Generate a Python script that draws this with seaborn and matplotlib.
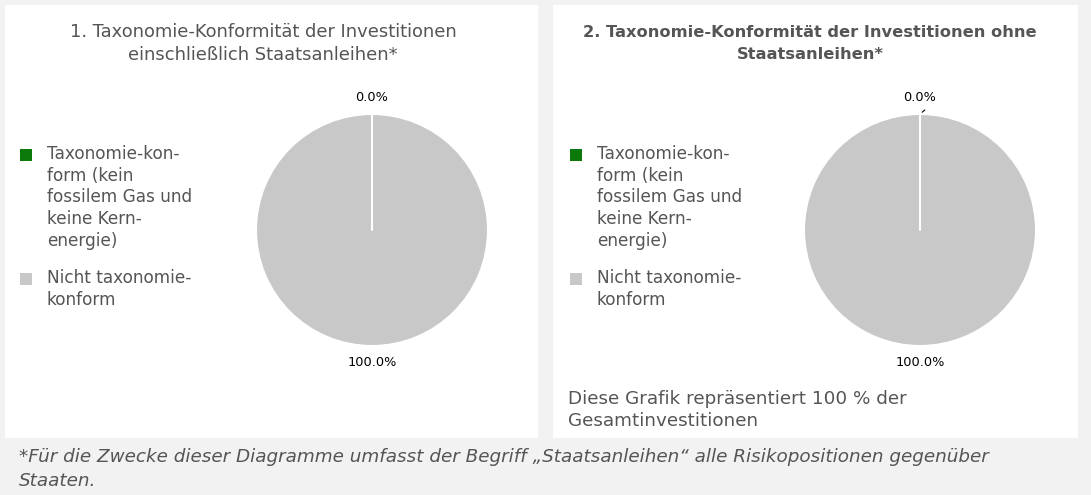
import matplotlib
matplotlib.use("Agg")
import numpy as np
import matplotlib.pyplot as plt
from matplotlib.patches import Rectangle
import seaborn as sns

# data
categories = ["Taxonomie-kon-\nform (kein\nfossilem Gas und\nkeine Kern-\nenergie)",
              "Nicht taxonomie-\nkonform"]
share_incl = [0.0, 100.0]
share_excl = [0.0, 100.0]
titles = ["1. Taxonomie-Konformität der Investitionen\neinschließlich Staatsanleihen*",
          "2. Taxonomie-Konformität der Investitionen ohne\nStaatsanleihen*"]
note = "Diese Grafik repräsentiert 100 % der\nGesamtinvestitionen"
footnote = ("*Für die Zwecke dieser Diagramme umfasst der Begriff „Staatsanleihen“ alle Risikopositionen gegenüber\n"
            "Staaten.")

sns.set_theme(style="white")
plt.rcParams["font.family"] = ["DejaVu Sans"]
colors = ["#0b7a0b", "#c8c8c8"]
txt = "#555555"

W, H = 1091, 495
fig = plt.figure(figsize=(W / 100, H / 100), dpi=100)
fig.patch.set_facecolor("#f2f2f2")

def px(x, y, w, h):
    # pixel box (top-left origin) -> figure fraction
    return [x / W, 1 - (y + h) / H, w / W, h / H]

# white panels
for (x0, x1) in [(5, 538), (553, 1078)]:
    b = px(x0, 5, x1 - x0, 433)
    fig.add_artist(Rectangle((b[0], b[1]), b[2], b[3], transform=fig.transFigure,
                             facecolor="white", edgecolor="none", zorder=0))

panels = [(share_incl, 372, 263, "normal", 12.9, 1.42, 20),
          (share_excl, 920, 810, "bold", 11.7, 1.58, 570)]
for i, (vals, cx, tx, weight, tsize, tls, lx) in enumerate(panels):
    fig.text(tx / W, 1 - 43.5 / H, titles[i], ha="center", va="center", fontsize=tsize,
             color=txt, fontweight=weight, linespacing=tls)
    ax = fig.add_axes(px(cx - 116, 114, 232, 232))
    wedges, _, autotexts = ax.pie(vals, colors=colors, startangle=90, counterclock=False,
                                  autopct="%.1f%%", pctdistance=1.14,
                                  wedgeprops=dict(edgecolor="white", linewidth=1.5))
    for t in autotexts:
        t.set_fontsize(9.3)
        t.set_color("black")
    # white separator where the empty slice sits
    ang = np.deg2rad(wedges[1].theta2)
    ax.plot([0, np.cos(ang)], [0, np.sin(ang)], color="white", lw=1.5)
    ax.set_xlim(-1, 1)
    ax.set_ylim(-1, 1)
    ax.set_aspect("equal")
    ax.axis("off")
    if i == 1:
        ax.annotate("", xy=(np.cos(ang), np.sin(ang)), xytext=(0.06, 1.05),
                    arrowprops=dict(arrowstyle="-", color="black", lw=0.8))
    # legend, square aligned with first line of each label
    for (w, lab, yc) in zip(wedges, categories, [155, 279]):
        fig.add_artist(Rectangle((lx / W, 1 - (yc + 6) / H), 12 / W, 12 / H,
                                 transform=fig.transFigure,
                                 facecolor=w.get_facecolor(), edgecolor="none"))
        fig.text((lx + 27) / W, 1 - (yc - 10) / H, lab, ha="left", va="top",
                 fontsize=12.2, color=txt, linespacing=1.26)

fig.text(568 / W, 1 - 410 / H, note, ha="left", va="center", fontsize=13.2,
         color=txt, linespacing=1.3)
fig.text(19 / W, 1 - 469 / H, footnote, ha="left", va="center", fontsize=13.2,
         color=txt, style="italic", linespacing=1.5)

plt.savefig("out.png", dpi=100, facecolor=fig.get_facecolor())
